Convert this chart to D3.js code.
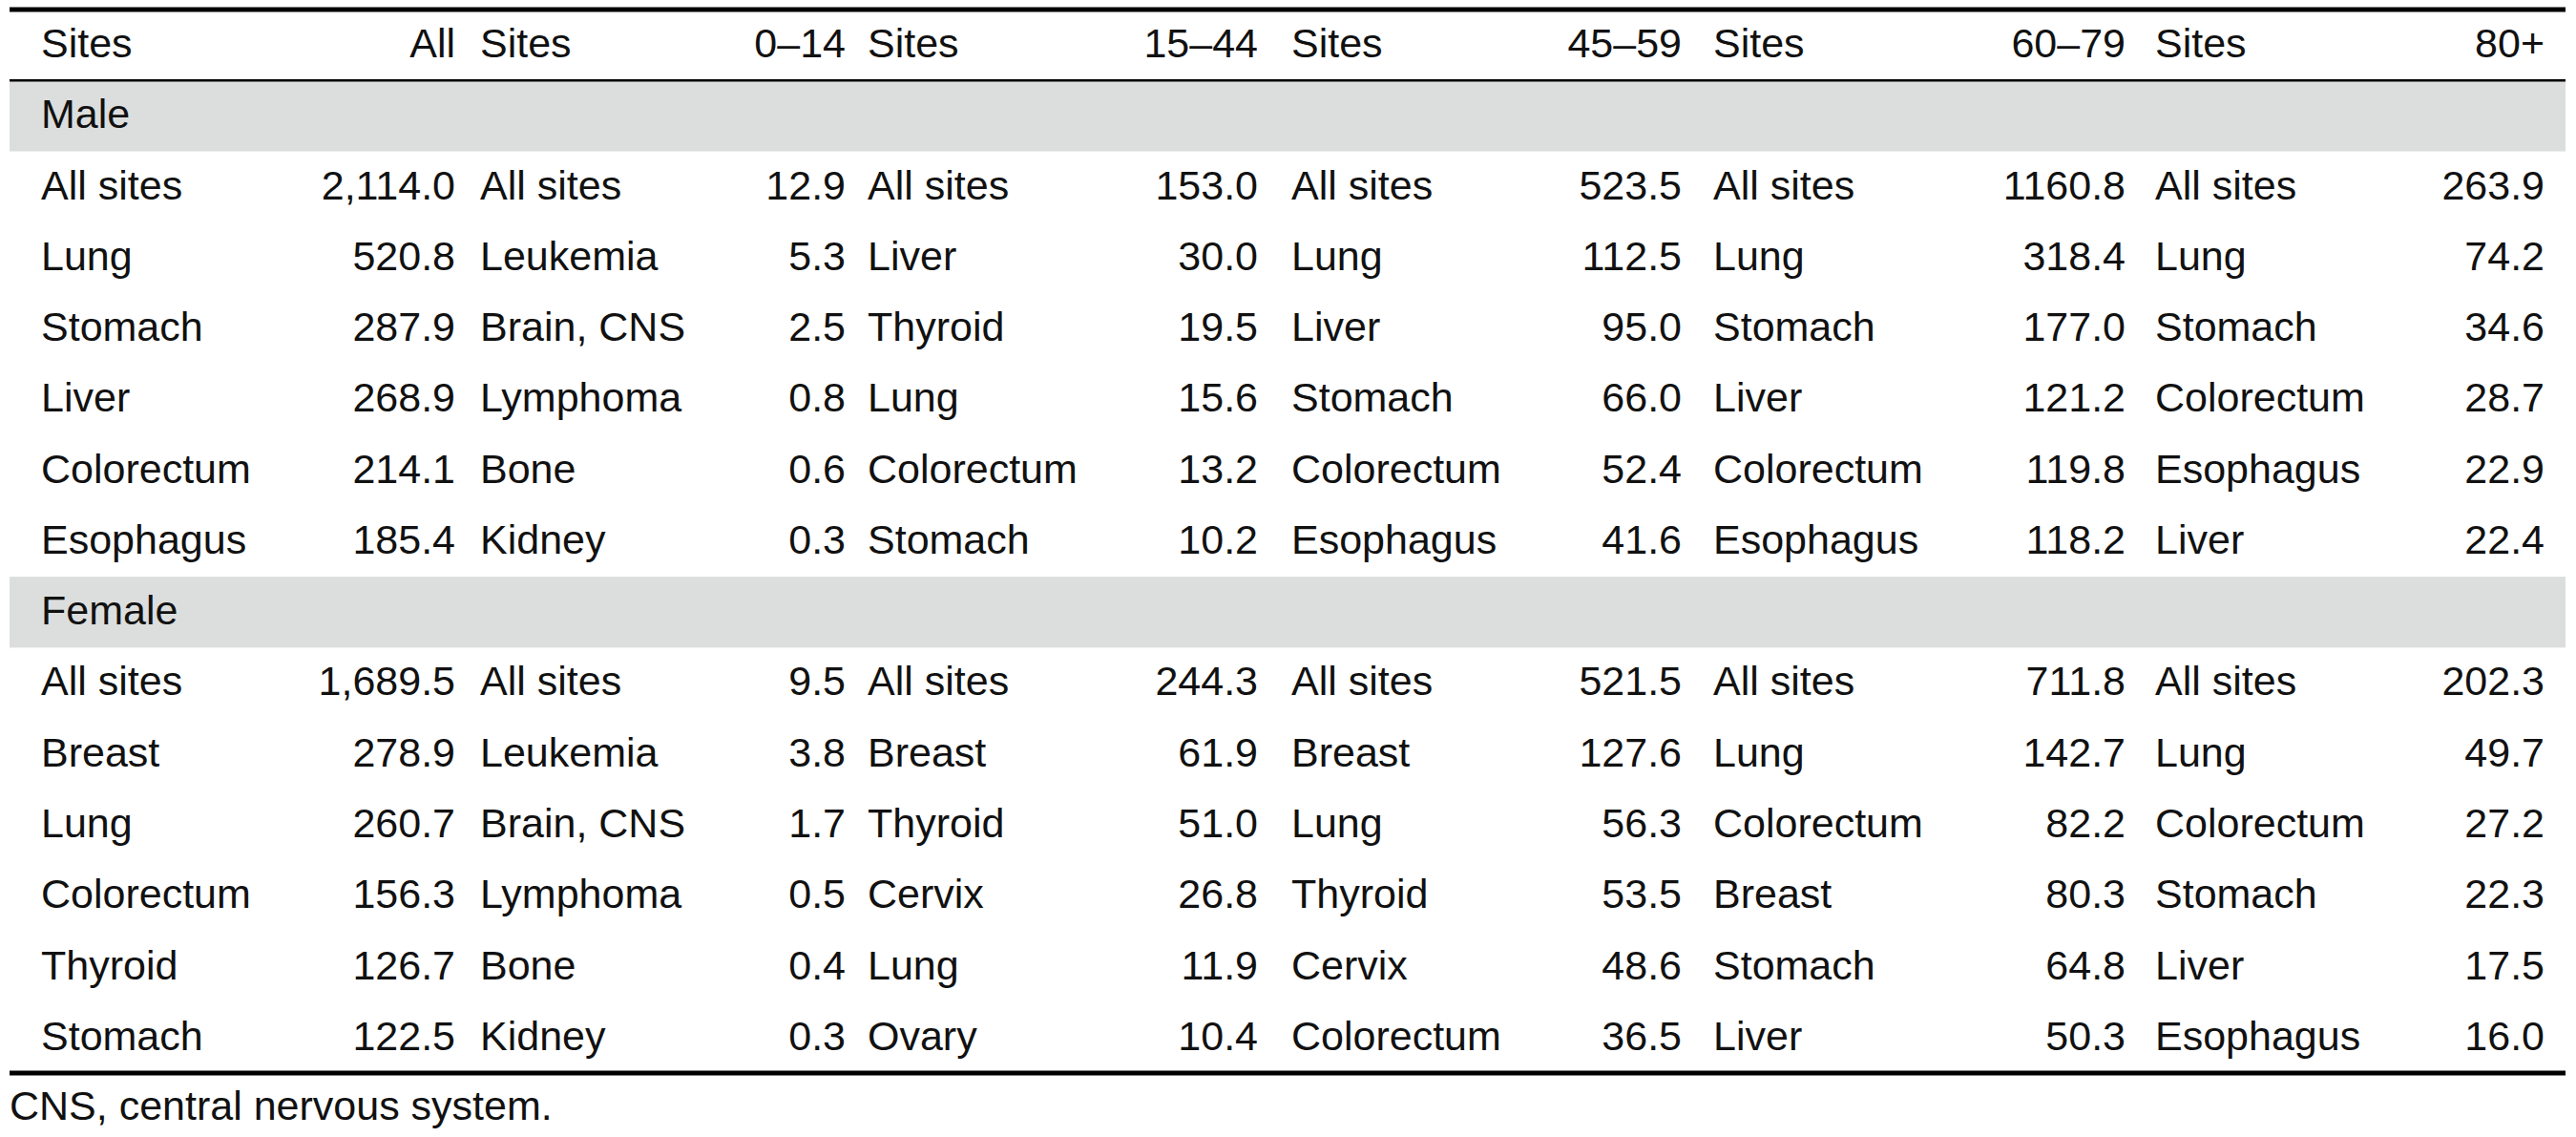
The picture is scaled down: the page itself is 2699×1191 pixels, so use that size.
<!DOCTYPE html>
<html>
<head>
<meta charset="utf-8">
<script src="https://cdn.jsdelivr.net/npm/d3@7"></script>
<style>
  body { margin: 0; background: #fff; }
  text { font-family: "Liberation Sans", Arial, sans-serif; font-size: 43px; fill: #111; }
</style>
</head>
<body>
<svg id="chart" width="2699" height="1191"></svg>
<script>
const ageGroups = ["All", "0\u201314", "15\u201344", "45\u201359", "60\u201379", "80+"];

const maleSites = [
  ["All sites", "Lung", "Stomach", "Liver", "Colorectum", "Esophagus"],
  ["All sites", "Leukemia", "Brain, CNS", "Lymphoma", "Bone", "Kidney"],
  ["All sites", "Liver", "Thyroid", "Lung", "Colorectum", "Stomach"],
  ["All sites", "Lung", "Liver", "Stomach", "Colorectum", "Esophagus"],
  ["All sites", "Lung", "Stomach", "Liver", "Colorectum", "Esophagus"],
  ["All sites", "Lung", "Stomach", "Colorectum", "Esophagus", "Liver"]
];
const maleValues = [
  ["2,114.0", "520.8", "287.9", "268.9", "214.1", "185.4"],
  ["12.9", "5.3", "2.5", "0.8", "0.6", "0.3"],
  ["153.0", "30.0", "19.5", "15.6", "13.2", "10.2"],
  ["523.5", "112.5", "95.0", "66.0", "52.4", "41.6"],
  ["1160.8", "318.4", "177.0", "121.2", "119.8", "118.2"],
  ["263.9", "74.2", "34.6", "28.7", "22.9", "22.4"]
];
const femaleSites = [
  ["All sites", "Breast", "Lung", "Colorectum", "Thyroid", "Stomach"],
  ["All sites", "Leukemia", "Brain, CNS", "Lymphoma", "Bone", "Kidney"],
  ["All sites", "Breast", "Thyroid", "Cervix", "Lung", "Ovary"],
  ["All sites", "Breast", "Lung", "Thyroid", "Cervix", "Colorectum"],
  ["All sites", "Lung", "Colorectum", "Breast", "Stomach", "Liver"],
  ["All sites", "Lung", "Colorectum", "Stomach", "Liver", "Esophagus"]
];
const femaleValues = [
  ["1,689.5", "278.9", "260.7", "156.3", "126.7", "122.5"],
  ["9.5", "3.8", "1.7", "0.5", "0.4", "0.3"],
  ["244.3", "61.9", "51.0", "26.8", "11.9", "10.4"],
  ["521.5", "127.6", "56.3", "53.5", "48.6", "36.5"],
  ["711.8", "142.7", "82.2", "80.3", "64.8", "50.3"],
  ["202.3", "49.7", "27.2", "22.3", "17.5", "16.0"]
];
const groups = ["Male", "Female"];
const footnote = "CNS, central nervous system.";

const svg = d3.select("#chart");
const left = 10, right = 2688;
const nameX = [43, 503, 909, 1353, 1795, 2258];
const valX = [477, 886, 1318, 1762, 2227, 2666];
const DY = "0.3em";

// rows: header, Male band, 6 rows, Female band, 6 rows
const rowKeys = ["hdr", "g0", ...d3.range(6).map(i => "m" + i), "g1", ...d3.range(6).map(i => "f" + i)];
const y = d3.scaleBand().domain(rowKeys).range([10, 1124]).paddingInner(0);

// gray group bands
[0, 1].forEach(g => {
  svg.append("rect").attr("x", left).attr("width", right - left)
    .attr("y", y("g" + g)).attr("height", y.bandwidth()).attr("fill", "#dcdedd");
  svg.append("text").attr("x", nameX[0]).attr("y", y("g" + g) + y.bandwidth() / 2)
    .attr("dy", DY).text(groups[g]);
});

// header
ageGroups.forEach((a, c) => {
  const cy = y("hdr") + y.bandwidth() / 2;
  svg.append("text").attr("x", nameX[c]).attr("y", cy).attr("dy", DY).text("Sites");
  svg.append("text").attr("x", valX[c]).attr("y", cy).attr("dy", DY)
    .attr("text-anchor", "end").text(a);
});

function body(prefix, sites, vals) {
  d3.range(6).forEach(r => {
    const cy = y(prefix + r) + y.bandwidth() / 2;
    d3.range(6).forEach(c => {
      svg.append("text").attr("x", nameX[c]).attr("y", cy).attr("dy", DY).text(sites[c][r]);
      svg.append("text").attr("x", valX[c]).attr("y", cy).attr("dy", DY)
        .attr("text-anchor", "end").text(vals[c][r]);
    });
  });
}
body("m", maleSites, maleValues);
body("f", femaleSites, femaleValues);

// rules
const rule = (yy, w) => svg.append("line").attr("x1", left).attr("x2", right)
  .attr("y1", yy).attr("y2", yy).attr("stroke", "#000").attr("stroke-width", w);
rule(10, 5);
rule(y("g0"), 2.5);
rule(1124, 5);

svg.append("text").attr("x", left).attr("y", 1160).attr("dy", DY).text(footnote);
</script>
</body>
</html>
